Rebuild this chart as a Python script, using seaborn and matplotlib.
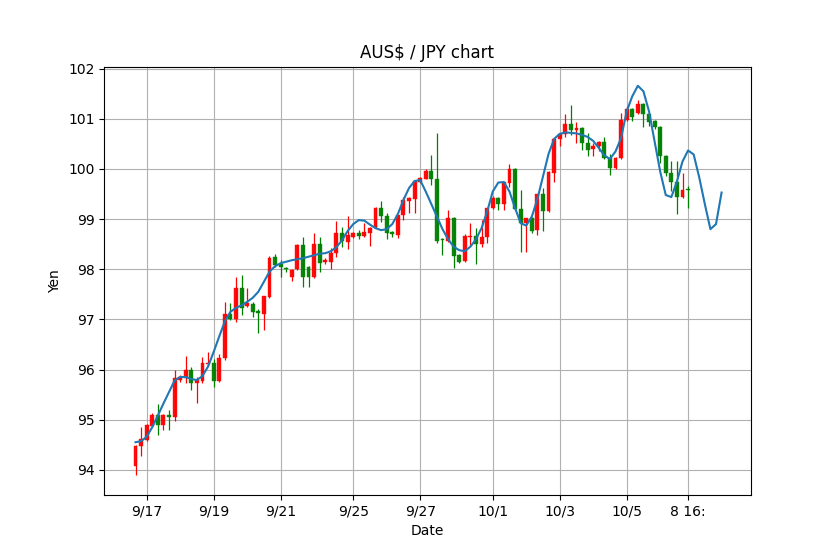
import numpy as np
import pandas as pd
import matplotlib
matplotlib.use("Agg")
import matplotlib.pyplot as plt
import seaborn as sns

# ---- data (4-hour candles, index-based x axis) ----
opens = [94.07, 94.47, 94.60, 94.88, 95.10, 94.90, 95.10, 95.05, 95.80, 95.83,
         96.00, 95.73, 95.78, 96.10, 96.12, 95.78, 96.22, 97.11, 97.00, 97.63,
         97.27, 97.31, 97.17, 97.11, 97.45, 98.24, 98.11, 98.01, 97.85, 98.00,
         98.49, 98.04, 97.85, 98.50, 98.15, 98.15, 98.32, 98.73, 98.55, 98.65,
         98.73, 98.67, 98.73, 98.85, 99.22, 99.07, 98.75, 98.69, 99.09, 99.37,
         99.41, 99.75, 99.81, 99.95, 99.80, 98.60, 98.57, 99.03, 98.29, 98.17,
         98.64, 98.67, 98.51, 98.64, 99.22, 99.43, 99.31, 99.73, 100.00, 99.20,
         98.92, 99.02, 98.79, 99.51, 99.17, 99.92, 100.59, 100.70, 100.89, 100.78,
         100.81, 100.51, 100.39, 100.45, 100.53, 100.22, 100.02, 100.22, 100.97, 101.20,
         101.12, 101.30, 101.10, 100.96, 100.84, 100.26, 99.91, 99.74, 99.45, 99.60]
highs = [94.50, 94.86, 94.92, 95.13, 95.32, 95.12, 95.20, 96.00, 95.90, 96.26,
         96.05, 95.86, 96.25, 96.34, 96.20, 96.30, 97.34, 97.32, 97.85, 97.89,
         97.62, 97.35, 97.20, 97.47, 98.26, 98.30, 98.19, 98.05, 98.01, 98.50,
         98.65, 98.06, 98.73, 98.65, 98.22, 98.42, 98.97, 98.85, 99.07, 98.75,
         98.78, 98.92, 98.85, 99.24, 99.37, 99.12, 98.77, 99.09, 99.45, 99.45,
         99.77, 99.84, 99.99, 100.27, 100.72, 98.62, 99.19, 99.05, 98.30, 98.71,
         98.92, 98.82, 98.99, 99.22, 99.46, 99.44, 99.74, 100.10, 100.02, 99.59,
         99.02, 99.05, 99.51, 99.62, 99.95, 100.61, 100.71, 101.10, 101.27, 100.94,
         100.84, 100.71, 100.51, 100.56, 100.63, 100.29, 100.24, 101.12, 101.25, 101.22,
         101.37, 101.32, 101.12, 100.98, 100.86, 100.28, 100.15, 100.15, 99.91, 99.67]
lows = [93.89, 94.28, 94.58, 94.85, 94.70, 94.80, 94.80, 94.98, 95.75, 95.73,
        95.60, 95.33, 95.73, 96.07, 95.65, 95.75, 96.18, 96.99, 96.95, 97.09,
        97.25, 97.05, 96.72, 96.79, 97.43, 98.05, 97.85, 97.95, 97.77, 97.98,
        97.64, 97.64, 97.83, 97.95, 98.10, 98.00, 98.24, 98.44, 98.41, 98.63,
        98.60, 98.65, 98.47, 98.83, 98.95, 98.60, 98.65, 98.63, 98.99, 99.13,
        99.13, 99.73, 99.80, 99.69, 98.52, 98.29, 98.55, 98.02, 98.13, 98.15,
        98.49, 98.11, 98.45, 98.52, 99.20, 99.19, 99.19, 99.65, 99.18, 98.35,
        98.35, 98.72, 98.69, 98.77, 99.15, 99.75, 100.45, 100.64, 100.68, 100.51,
        100.37, 100.25, 100.25, 100.35, 100.20, 99.89, 100.00, 100.20, 100.95, 100.95,
        101.10, 100.84, 100.86, 100.80, 100.12, 99.86, 99.56, 99.10, 99.43, 99.23]
closes = [94.48, 94.61, 94.90, 95.10, 94.90, 95.10, 95.05, 95.83, 95.86, 96.00,
          95.73, 95.80, 96.12, 96.13, 95.78, 96.22, 97.11, 97.01, 97.63, 97.23,
          97.32, 97.15, 97.12, 97.47, 98.22, 98.09, 98.04, 98.00, 97.99, 98.49,
          97.85, 97.85, 98.50, 98.13, 98.19, 98.33, 98.73, 98.57, 98.69, 98.73,
          98.67, 98.75, 98.83, 99.22, 99.07, 98.72, 98.70, 99.09, 99.39, 99.43,
          99.77, 99.82, 99.95, 99.80, 98.57, 98.58, 99.03, 98.27, 98.15, 98.67,
          98.66, 98.51, 98.65, 99.22, 99.43, 99.31, 99.74, 99.99, 99.20, 98.92,
          99.02, 98.77, 99.51, 99.17, 99.93, 100.60, 100.69, 100.89, 100.78, 100.81,
          100.51, 100.38, 100.46, 100.53, 100.22, 100.02, 100.22, 100.97, 101.20, 101.03,
          101.30, 101.10, 100.94, 100.83, 100.26, 99.91, 99.74, 99.45, 99.59, 99.58]

trend = [94.55, 94.57, 94.66, 94.85, 95.08, 95.32, 95.55, 95.78, 95.85, 95.85,
         95.81, 95.79, 95.87, 96.06, 96.35, 96.66, 96.96, 97.15, 97.23, 97.28,
         97.35, 97.43, 97.55, 97.75, 97.95, 98.06, 98.12, 98.15, 98.18, 98.20,
         98.22, 98.25, 98.28, 98.31, 98.32, 98.36, 98.44, 98.58, 98.76, 98.90,
         98.98, 98.97, 98.89, 98.82, 98.78, 98.80, 98.90, 99.10, 99.38, 99.62,
         99.76, 99.78, 99.55, 99.30, 99.05, 98.80, 98.60, 98.45, 98.38, 98.36,
         98.45, 98.60, 98.82, 99.15, 99.55, 99.73, 99.74, 99.55, 99.22, 98.92,
         98.87, 99.05, 99.40, 99.85, 100.30, 100.60, 100.70, 100.73, 100.72, 100.71,
         100.68, 100.64, 100.56, 100.42, 100.27, 100.20, 100.35, 100.62, 101.15, 101.45,
         101.66, 101.55, 101.15, 100.55, 99.95, 99.48, 99.44, 99.75, 100.15, 100.37,
         100.29, 99.83, 99.30, 98.80, 98.90, 99.53]

tick_pos = [2, 14, 26, 39, 51, 64, 76, 88, 99]
tick_labels = ['9/17', '9/19', '9/21', '9/25', '9/27', '10/1', '10/3', '10/5', '8 16:']

# ---- build tables ----
candles = pd.DataFrame({"open": opens, "high": highs, "low": lows, "close": closes})
candles["idx"] = np.arange(len(candles))
candles["up"] = candles["close"] >= candles["open"]
candles["color"] = np.where(candles["up"], "red", "green")
candles["bottom"] = candles[["open", "close"]].min(axis=1)
candles["height"] = (candles["close"] - candles["open"]).abs().clip(lower=0.015)

trend_df = pd.DataFrame({"idx": np.arange(len(trend)), "value": trend})

# ---- plot ----
fig, ax = plt.subplots(figsize=(8.34, 5.56), dpi=100)
ax.set_axisbelow(True)
ax.grid(True, color="#b0b0b0", linewidth=0.8)

ax.vlines(candles["idx"], candles["low"], candles["high"],
          colors=candles["color"], linewidth=0.9, zorder=2)
ax.bar(candles["idx"], candles["height"], bottom=candles["bottom"], width=0.7,
       color=candles["color"], edgecolor=candles["color"], linewidth=0.3,
       alpha=0.95, zorder=3)

sns.lineplot(data=trend_df, x="idx", y="value", ax=ax, color="#1f77b4",
             linewidth=1.5, zorder=4)

ax.set_xticks(tick_pos)
ax.set_xticklabels(tick_labels)
ax.set_yticks(np.arange(94, 103, 1))
ax.set_xlim(-5.6, 110.2)
ax.set_ylim(93.5, 102.04)
ax.set_title("AUS$ / JPY chart")
ax.set_xlabel("Date")
ax.set_ylabel("Yen")

fig.savefig("out.png", dpi=100)
